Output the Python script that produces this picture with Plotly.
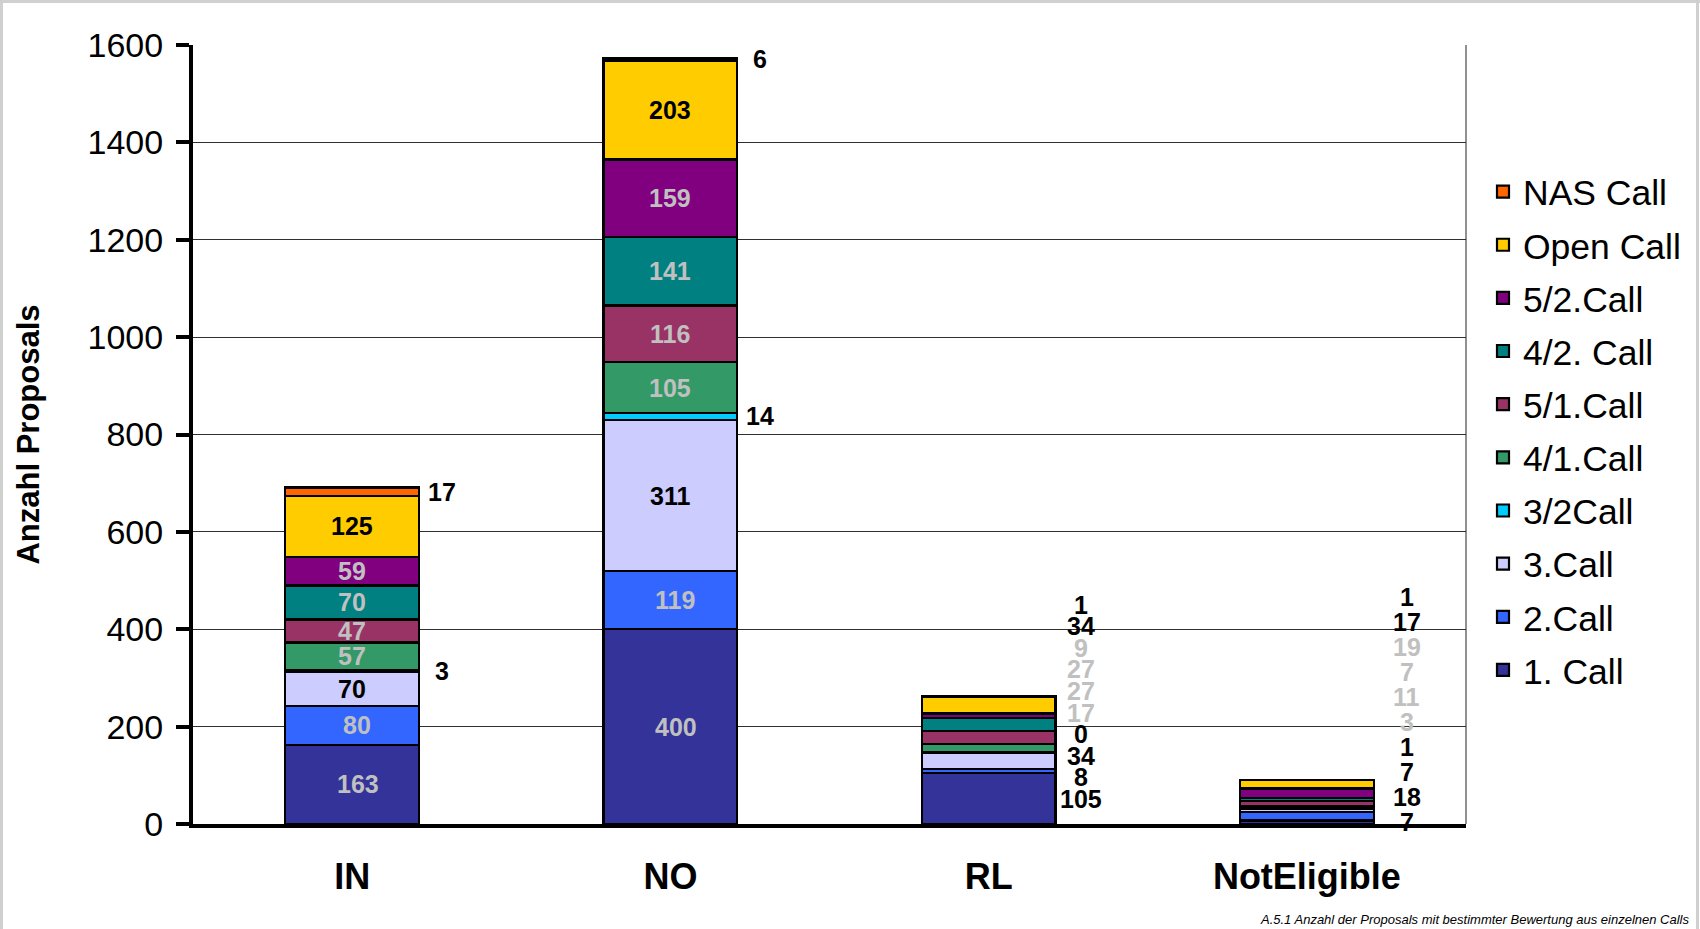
import plotly.graph_objects as go

# ---------------- data ----------------
categories = ["IN", "NO", "RL", "NotEligible"]
series_names = ["1. Call", "2.Call", "3.Call", "3/2Call", "4/1.Call",
                "5/1.Call", "4/2. Call", "5/2.Call", "Open Call", "NAS Call"]
call_1 = [163, 400, 105, 7]
call_2 = [80, 119, 8, 18]
call_3 = [70, 311, 34, 7]
call_3_2 = [3, 14, 0, 1]
call_4_1 = [57, 105, 17, 3]
call_5_1 = [47, 116, 27, 11]
call_4_2 = [70, 141, 27, 7]
call_5_2 = [59, 159, 9, 19]
open_call = [125, 203, 34, 17]
nas_call = [17, 6, 1, 1]
y_ticks = [0, 200, 400, 600, 800, 1000, 1200, 1400, 1600]
footnote = "A.5.1 Anzahl der Proposals mit bestimmter Bewertung aus einzelnen Calls"
y_title = "Anzahl Proposals"

series_values = [call_1, call_2, call_3, call_3_2, call_4_1,
                 call_5_1, call_4_2, call_5_2, open_call, nas_call]

# ---------------- styles ----------------
colors = ["#333399", "#3366FF", "#CCCCFF", "#00CCFF", "#339966",
          "#993366", "#008080", "#800080", "#FFCC00", "#FF6600"]
GRAY = "#C0C0C0"
inside_label_color = [GRAY, GRAY, "black", None, GRAY, GRAY, GRAY, GRAY, "black", None]
outside_label_color = ["black", "black", "black", "black", GRAY, GRAY, GRAY, GRAY, "black", "black"]
inside_xshift = [6, 5, 0, 0, 0, 0, 0, 0, 0, 0]
inside_labeled = [True, True, True, False, True, True, True, True, True, False]
# categories whose labels are stacked in a column beside the bar
column_label_style = {"RL": dict(xshift=92, base=25, step=21.6),
                      "NotEligible": dict(xshift=100, base=2, step=25)}
side_label_xshift = {"IN": 90, "NO": 90}

FONT = "Liberation Sans, Arial, sans-serif"
W, H = 1700, 929
ML, MR, MT, MB = 193, 234, 45, 105
PW, PH = W - ML - MR, H - MT - MB


def px_x(p):
    return (p - ML) / PW


def px_y(p):
    return (H - MB - p) / PH


fig = go.Figure()
n = len(series_names)
for i, (name, vals, col) in enumerate(zip(series_names, series_values, colors)):
    fig.add_trace(go.Bar(
        name=name, x=categories, y=vals,
        marker=dict(color=col, line=dict(color="black", width=2.2)),
        legendgroup=name, legendrank=n - i,
    ))

annotations = []
for ci, cat in enumerate(categories):
    cum = 0
    for si, vals in enumerate(series_values):
        v = vals[ci]
        mid = cum + v / 2
        cum += v
        if cat in side_label_xshift:
            if inside_labeled[si]:
                annotations.append(dict(
                    x=cat, y=mid, xref="x", yref="y", text=str(v), showarrow=False,
                    xshift=inside_xshift[si],
                    font=dict(family=FONT, size=25, color=inside_label_color[si], weight="bold"),
                    xanchor="center", yanchor="middle"))
            else:
                annotations.append(dict(
                    x=cat, y=mid, xref="x", yref="y", text=str(v), showarrow=False,
                    xshift=side_label_xshift[cat],
                    font=dict(family=FONT, size=25, color=outside_label_color[si], weight="bold"),
                    xanchor="center", yanchor="middle"))
        else:
            st = column_label_style[cat]
            annotations.append(dict(
                x=cat, y=0, xref="x", yref="y", text=str(v), showarrow=False,
                xshift=st["xshift"], yshift=st["base"] + si * st["step"],
                font=dict(family=FONT, size=25, color=outside_label_color[si], weight="bold"),
                xanchor="center", yanchor="middle", borderpad=0))

annotations.append(dict(
    x=px_x(1692), y=px_y(919), xref="paper", yref="paper", text=f"<i>{footnote}</i>",
    showarrow=False, xanchor="right", yanchor="middle",
    font=dict(family=FONT, size=13, color="black")))

shapes = [
    dict(type="line", xref="paper", yref="paper", x0=1, x1=1, y0=0, y1=1,
         line=dict(color="#222222", width=1)),
    dict(type="line", xref="paper", yref="paper", x0=px_x(1.5), x1=px_x(1.5),
         y0=px_y(0), y1=px_y(H), line=dict(color="#D0D0D0", width=3)),
    dict(type="line", xref="paper", yref="paper", x0=px_x(0), x1=px_x(W),
         y0=px_y(1.5), y1=px_y(1.5), line=dict(color="#D0D0D0", width=3)),
    dict(type="line", xref="paper", yref="paper", x0=px_x(W - 2.5), x1=px_x(W - 2.5),
         y0=px_y(0), y1=px_y(H), line=dict(color="#D0D0D0", width=3)),
]

fig.update_layout(
    width=W, height=H,
    margin=dict(l=ML, r=MR, t=MT, b=MB, pad=0),
    paper_bgcolor="white", plot_bgcolor="white",
    barmode="stack", bargap=0.58,
    font=dict(family=FONT, color="black"),
    showlegend=True,
    legend=dict(
        x=px_x(1483), y=px_y(162), xanchor="left", yanchor="top",
        traceorder="grouped", tracegroupgap=4,
        font=dict(family=FONT, size=35.5, color="black"),
        bgcolor="rgba(0,0,0,0)", itemwidth=30,
    ),
    xaxis=dict(
        type="category", categoryorder="array", categoryarray=categories,
        showline=True, linecolor="black", linewidth=4,
        ticks="", showgrid=False, zeroline=False,
        tickfont=dict(family=FONT, size=36, color="black", weight="bold"),
        ticklabelstandoff=18,
    ),
    yaxis=dict(
        range=[0, 1600], tickvals=y_ticks, ticktext=[str(t) for t in y_ticks],
        showline=True, linecolor="black", linewidth=4,
        ticks="outside", ticklen=13, tickwidth=4, tickcolor="black",
        showgrid=True, gridcolor="#303030", gridwidth=1, zeroline=False,
        tickfont=dict(family=FONT, size=34, color="black"),
        ticklabelstandoff=6,
        title=dict(text=y_title, font=dict(family=FONT, size=31, color="black", weight="bold"),
                   standoff=40),
    ),
    annotations=annotations,
    shapes=shapes,
)

fig.write_html("out.html", config={"displayModeBar": False},
               post_script="document.body.style.margin='0';document.body.style.overflow='hidden';")
